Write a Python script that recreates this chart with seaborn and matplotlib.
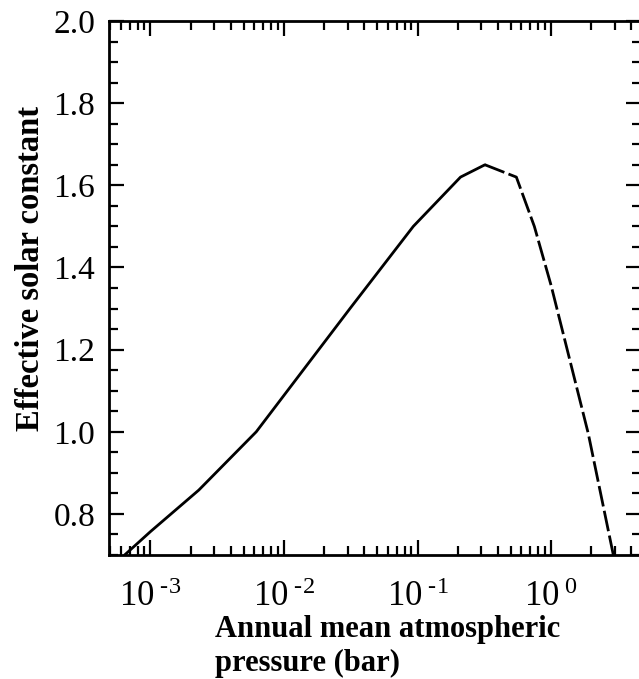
import numpy as np
import pandas as pd
import matplotlib
matplotlib.use('Agg')
import matplotlib.pyplot as plt
import seaborn as sns
from matplotlib.ticker import LogLocator, MultipleLocator, FixedLocator, FuncFormatter, NullFormatter

# values
solid_p = [6.4e-4, 1.0e-3, 2.3e-3, 6.2e-3, 0.0312, 0.093, 0.21, 0.32]
solid_s = [0.70, 0.757, 0.858, 1.00, 1.30, 1.50, 1.62, 1.65]
dash_p = [0.32, 0.55, 0.75, 1.0, 1.9, 2.93]
dash_s = [1.65, 1.62, 1.50, 1.357, 0.996, 0.70]
decades = [1e-3, 1e-2, 1e-1, 1e0]
decade_labels = ['-3', '-2', '-1', '0']

sns.set_theme(style='ticks')
plt.rcParams['font.family'] = ['Liberation Serif', 'DejaVu Serif']
plt.rcParams['text.color'] = 'black'
plt.rcParams['axes.labelcolor'] = 'black'
plt.rcParams['mathtext.fontset'] = 'custom'
plt.rcParams['mathtext.rm'] = 'Liberation Serif'
plt.rcParams['mathtext.it'] = 'Liberation Serif:italic'
plt.rcParams['mathtext.bf'] = 'Liberation Serif:bold'

fig = plt.figure(figsize=(6.39, 6.79), dpi=100)
ax = fig.add_axes([109 / 639, 124 / 679, 532 / 639, 534 / 679])

solid = pd.DataFrame({'p': solid_p, 's': solid_s})
dashed = pd.DataFrame({'p': dash_p, 's': dash_s})
sns.lineplot(data=solid, x='p', y='s', ax=ax, color='black', lw=2.0, sort=False)
sns.lineplot(data=dashed, x='p', y='s', ax=ax, color='black', lw=2.0, sort=False,
             linestyle=(0, (7.5, 1.6)))

ax.set_xscale('log')
ax.set_xlim(4.89e-4, 4.72)
ax.set_ylim(0.7, 2.0)


def decade_fmt(v, pos):
    if pos is None or pos >= len(decade_labels):
        return ''
    return r'$\mathregular{10^{\ \text{' + decade_labels[pos] + '}}}$'


ax.xaxis.set_major_locator(FixedLocator(decades))
ax.xaxis.set_major_formatter(FuncFormatter(decade_fmt))
ax.xaxis.set_minor_locator(LogLocator(base=10, subs=np.arange(2, 10), numticks=20))
ax.xaxis.set_minor_formatter(NullFormatter())
ax.yaxis.set_major_locator(FixedLocator([0.8, 1.0, 1.2, 1.4, 1.6, 1.8, 2.0]))
ax.yaxis.set_major_formatter(FuncFormatter(lambda v, pos: f'{v:.1f}'))
ax.yaxis.set_minor_locator(MultipleLocator(0.05))

ax.tick_params(which='both', direction='in', top=True, right=True,
               width=1.6, color='black', labelcolor='black')
ax.tick_params(which='major', length=11, labelsize=24, pad=10)
ax.tick_params(which='minor', length=6.5)
ax.tick_params(axis='x', which='major', labelsize=25, pad=19)
for sp in ax.spines.values():
    sp.set_linewidth(2.0)
    sp.set_color('black')

ax.set_xlabel('Annual mean atmospheric\npressure (bar)', fontsize=22,
              fontweight='bold', ha='left', va='top', multialignment='left',
              linespacing=1.25)
ax.xaxis.set_label_coords(0.199, -0.112)
ax.set_ylabel('Effective solar constant', fontsize=23.5, fontweight='bold',
              va='center')
ax.yaxis.set_label_coords(-0.147, 0.537)

fig.savefig('out.png', dpi=100)
